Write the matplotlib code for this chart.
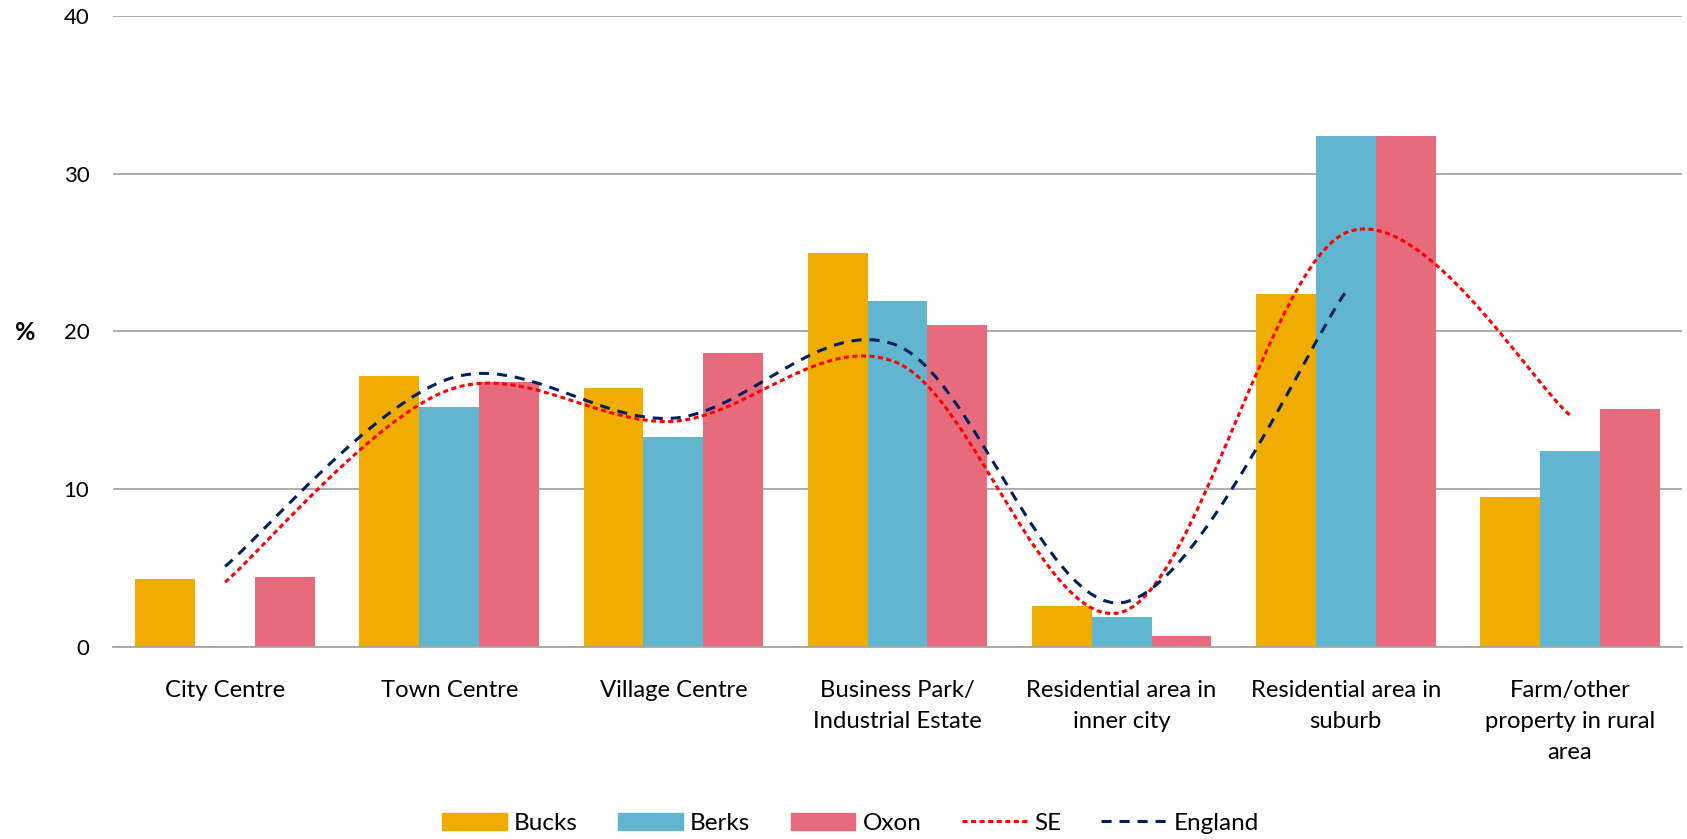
import numpy as np
import matplotlib
matplotlib.use("Agg")
import matplotlib.pyplot as plt
from matplotlib.path import Path
from matplotlib.patches import PathPatch, Patch
from matplotlib.lines import Line2D

plt.rcParams['font.family'] = ['Lato', 'DejaVu Sans']

categories = ["City Centre", "Town Centre", "Village Centre",
              "Business Park/\nIndustrial Estate", "Residential area in\ninner city",
              "Residential area in\nsuburb", "Farm/other\nproperty in rural\narea"]
bucks = [4.3, 17.2, 16.4, 25.0, 2.6, 22.4, 9.5]
berks = [0.0, 15.2, 13.3, 21.9, 1.9, 32.4, 12.4]
oxon = [4.4, 16.8, 18.6, 20.4, 0.7, 32.4, 15.1]
se = [4.1, 16.3, 14.3, 18.0, 2.2, 26.25, 14.7]
england = [5.1, 17.0, 14.5, 19.1, 2.8, 22.5]   # no value for the last category

col_bucks = "#F0AC00"
col_berks = "#62B5CE"
col_oxon = "#E66C7D"
col_se = "#FF0000"
col_eng = "#002060"


def smooth_path(xs, ys):
    # excel style smoothed line: cubic bezier with catmull-rom control points
    pts = np.column_stack([xs, ys]).astype(float)
    n = len(pts)
    verts = [pts[0]]
    codes = [Path.MOVETO]
    for i in range(n - 1):
        p0 = pts[i - 1] if i > 0 else pts[i]
        p1 = pts[i]
        p2 = pts[i + 1]
        p3 = pts[i + 2] if i + 2 < n else pts[i + 1]
        c1 = p1 + (p2 - p0) / 6.0
        c2 = p2 - (p3 - p1) / 6.0
        verts += [c1, c2, p2]
        codes += [Path.CURVE4] * 3
    return Path(verts, codes)


fig = plt.figure(figsize=(16.87, 8.39), dpi=100)
ax = fig.add_axes([0.067, 0.229, 0.930, 0.752])

x = np.arange(len(categories))
w = 0.267
ax.bar(x - w, bucks, w, color=col_bucks, zorder=2)
ax.bar(x, berks, w, color=col_berks, zorder=2)
ax.bar(x + w, oxon, w, color=col_oxon, zorder=2)

se_dash = (0, (1.65, 1.15))
eng_dash = (0, (3.3, 2.6))
ax.add_patch(PathPatch(smooth_path(x[:len(se)], se), fill=False, edgecolor=col_se,
                       lw=2.2, linestyle=se_dash, zorder=3))
ax.add_patch(PathPatch(smooth_path(x[:len(england)], england), fill=False, edgecolor=col_eng,
                       lw=2.2, linestyle=eng_dash, zorder=3))

ax.set_xlim(-0.5, len(categories) - 0.5)
ax.set_ylim(0, 40)
ax.set_yticks([0, 10, 20, 30, 40])
ax.set_xticks(x)
ax.set_xticklabels(categories, fontsize=17.2, linespacing=1.58)
ax.tick_params(axis='x', length=0, pad=24)
ax.tick_params(axis='y', length=0, pad=17, labelsize=16)
ax.grid(axis='y', color="#A6A6A6", lw=1.3, zorder=0)
for s in ["top", "right", "left"]:
    ax.spines[s].set_visible(False)
ax.spines["bottom"].set_color("#A6A6A6")
ax.spines["bottom"].set_linewidth(1.3)

fig.text(0.009, 0.604, "%", fontsize=18, fontweight="bold", va="center")

handles = [Patch(color=col_bucks), Patch(color=col_berks), Patch(color=col_oxon),
           Line2D([], [], color=col_se, lw=2.2, linestyle=se_dash),
           Line2D([], [], color=col_eng, lw=2.2, linestyle=eng_dash)]
fig.legend(handles, ["Bucks", "Berks", "Oxon", "SE", "England"], loc="center",
           bbox_to_anchor=(0.504, 0.019), ncol=5, frameon=False, fontsize=17.5,
           handlelength=2.67, handleheight=0.7, columnspacing=1.65, handletextpad=0.3)

fig.savefig("out.png", dpi=100)
